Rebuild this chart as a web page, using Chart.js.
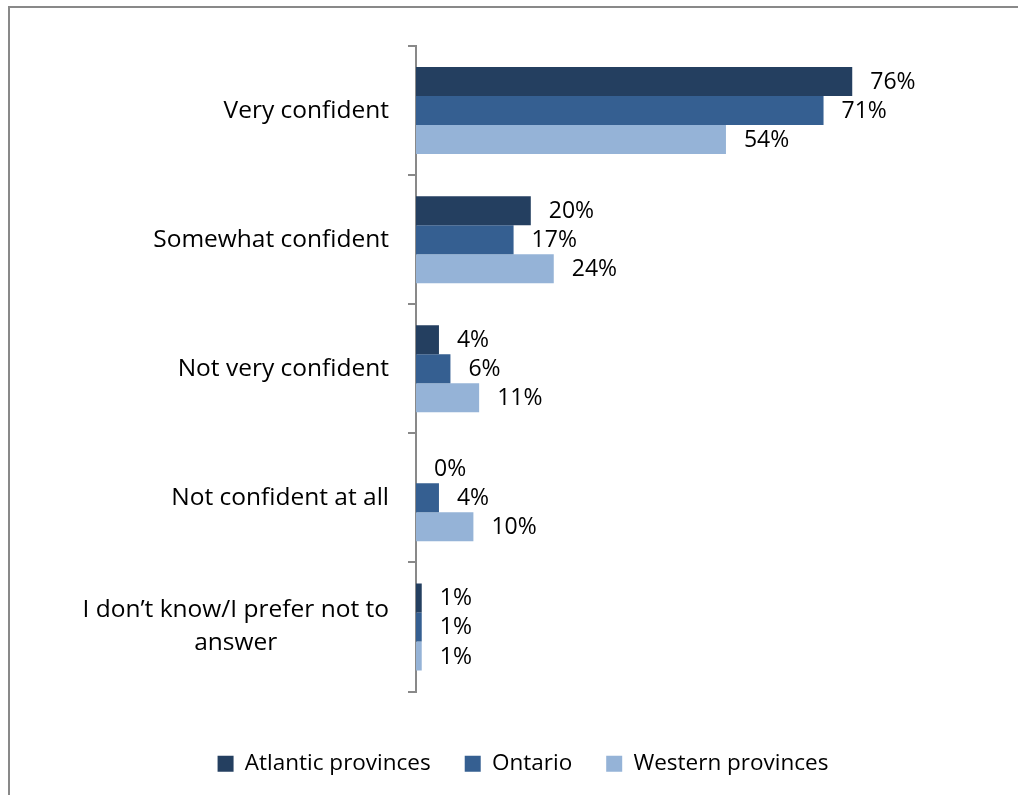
<!DOCTYPE html>
<html>
<head>
<meta charset="utf-8">
<script src="https://cdn.jsdelivr.net/npm/chart.js@4.4.0/dist/chart.umd.min.js"></script>
<style>
html, body { margin: 0; padding: 0; overflow: hidden; background: #fff; }
#contenedor { position: absolute; left: 0; top: 0; width: 1018px; height: 795px; }
</style>
</head>
<body>
<div id="contenedor"><canvas id="grafico"></canvas></div>
<script>
// Datos del grafico
var categorias = ['Very confident', 'Somewhat confident', 'Not very confident', 'Not confident at all',
    ['I don\u2019t know/I prefer not to', 'answer']];
var series = ['Atlantic provinces', 'Ontario', 'Western provinces'];
var atlantico = [76, 20, 4, 0, 1];
var ontario = [71, 17, 6, 4, 1];
var oeste = [54, 24, 11, 10, 1];
var colores = ['#243f60', '#355f91', '#95b3d7'];

var fuente = 'Open Sans';
var gris = '#898989';

// marco gris alrededor del grafico
var marco = {
    id: 'marco',
    beforeDraw: function (chart) {
        var ctx = chart.ctx;
        ctx.save();
        ctx.strokeStyle = gris;
        ctx.lineWidth = 2;
        ctx.strokeRect(9, 7, 1200, 1000);
        ctx.restore();
    }
};

// etiquetas con el porcentaje al final de cada barra
var etiquetas = {
    id: 'etiquetas',
    afterDatasetsDraw: function (chart) {
        var ctx = chart.ctx;
        ctx.save();
        ctx.font = '23px "' + fuente + '"';
        ctx.fillStyle = '#000';
        ctx.textAlign = 'left';
        ctx.textBaseline = 'middle';
        chart.data.datasets.forEach(function (ds, i) {
            var meta = chart.getDatasetMeta(i);
            meta.data.forEach(function (barra, j) {
                ctx.fillText(ds.data[j] + '%', barra.x + 18, barra.y + 1);
            });
        });
        ctx.restore();
    }
};

// nombres de las categorias (la ultima va en dos lineas centradas)
var nombres = {
    id: 'nombres',
    afterDraw: function (chart) {
        var ctx = chart.ctx;
        var escalaY = chart.scales.y;
        var derecha = escalaY.right - 27;
        ctx.save();
        ctx.font = '24.5px "' + fuente + '"';
        ctx.fillStyle = '#000';
        ctx.textBaseline = 'middle';
        categorias.forEach(function (cat, j) {
            var y = escalaY.getPixelForValue(j);
            if (Array.isArray(cat)) {
                var ancho = 0;
                cat.forEach(function (l) { ancho = Math.max(ancho, ctx.measureText(l).width); });
                ctx.textAlign = 'center';
                for (var k = 0; k < cat.length; k++) {
                    ctx.fillText(cat[k], derecha - ancho / 2, y + (k - (cat.length - 1) / 2) * 33);
                }
            } else {
                ctx.textAlign = 'right';
                ctx.fillText(cat, derecha, y);
            }
        });
        ctx.restore();
    }
};

var valores = [atlantico, ontario, oeste];
var conjuntos = [];
for (var i = 0; i < series.length; i++) {
    conjuntos.push({
        label: series[i],
        data: valores[i],
        backgroundColor: colores[i],
        borderWidth: 0,
        categoryPercentage: 0.674,
        barPercentage: 1.0
    });
}

new Chart(document.getElementById('grafico'), {
    type: 'bar',
    data: { labels: categorias, datasets: conjuntos },
    plugins: [marco, etiquetas, nombres],
    options: {
        indexAxis: 'y',
        responsive: true,
        maintainAspectRatio: false,
        animation: false,
        layout: { padding: { top: 46, left: 56, right: 28, bottom: 10 } },
        scales: {
            x: {
                min: 0,
                max: 100,
                grid: { display: false },
                border: { display: false },
                ticks: { display: false },
                afterFit: function (s) { s.height = 27; }
            },
            y: {
                grid: { display: true, drawOnChartArea: false, drawTicks: true, tickLength: 8, color: gris, lineWidth: 2 },
                border: { display: true, color: gris, width: 2 },
                ticks: { display: false },
                afterFit: function (s) { s.width = 360; }
            }
        },
        plugins: {
            tooltip: { enabled: false },
            legend: {
                position: 'bottom',
                labels: {
                    boxWidth: 16,
                    boxHeight: 16,
                    padding: 34,
                    color: '#000',
                    font: { family: fuente, size: 22.5 }
                }
            }
        }
    }
});
</script>
</body>
</html>
